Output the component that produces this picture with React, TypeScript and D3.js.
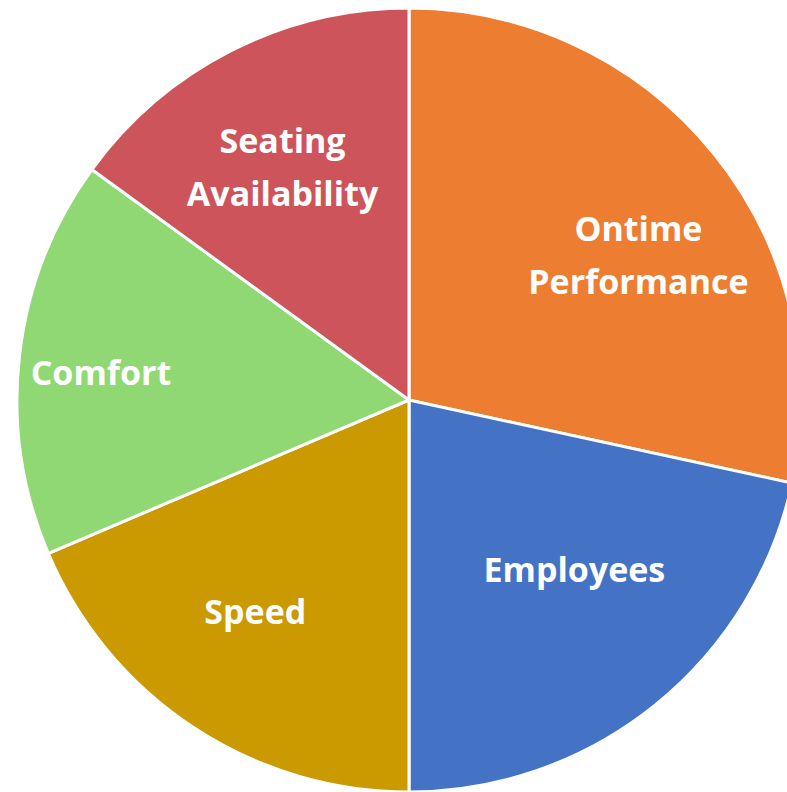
import React from "react";
import { pie, arc } from "d3";

const categories = ["Ontime Performance", "Employees", "Speed", "Comfort", "Seating Availability"];
const values = [28.4, 21.6, 18.6, 16.4, 15.0];
const colors = ["#ED7D31", "#4472C4", "#CB9900", "#8FD874", "#CD545B"];

export const App = () => {
  const width = 787;
  const height = 792;
  const cx = 409;
  const cy = 400;
  const radius = 392;

  const slices = pie<number>().sort(null)(values);
  const sliceArc = arc<any>().innerRadius(0).outerRadius(radius);
  const labelArc = arc<any>().innerRadius(radius * 0.66).outerRadius(radius * 0.66);

  // excel nudges labels so they fit inside the slice
  const nudge: Record<string, [number, number]> = {
    "Ontime Performance": [28, 18],
    Employees: [3, -31],
    Speed: [-11, -4],
    Comfort: [-51, 2],
    "Seating Availability": [-9, -2],
  };
  const lineHeight = 53;

  return (
    <svg
      width={width}
      height={height}
      style={{ position: "absolute", left: 0, top: 0, background: "#fff" }}
    >
      <g transform={`translate(${cx},${cy})`}>
        {slices.map((s, i) => (
          <path key={categories[i]} d={sliceArc(s) || ""} fill={colors[i]} stroke="#fff" strokeWidth={3} />
        ))}
        {slices.map((s, i) => {
          const [x, y] = labelArc.centroid(s);
          const [dx, dy] = nudge[categories[i]];
          const lines = categories[i].split(" ");
          const top = y + dy - ((lines.length - 1) * lineHeight) / 2;
          return (
            <text
              key={categories[i]}
              x={x + dx}
              textAnchor="middle"
              fill="#fff"
              fontFamily="'Open Sans', sans-serif"
              fontWeight={700}
              fontSize={34}
            >
              {lines.map((l, j) => (
                <tspan key={l} x={x + dx} y={top + j * lineHeight + 12}>
                  {l}
                </tspan>
              ))}
            </text>
          );
        })}
      </g>
    </svg>
  );
};

export default App;
